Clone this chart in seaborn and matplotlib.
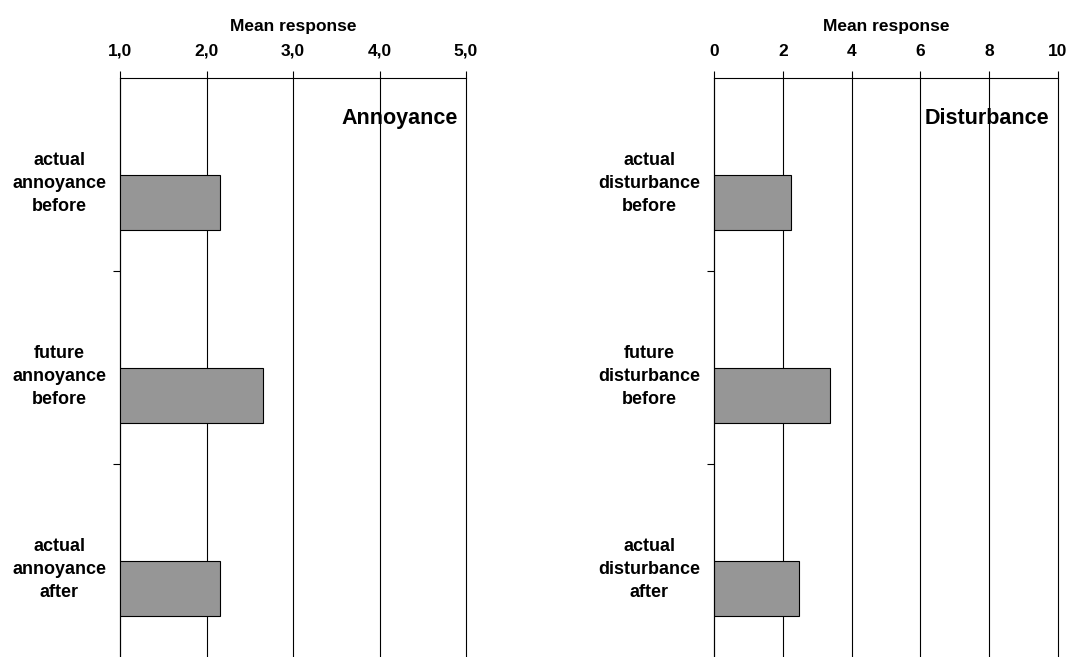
import matplotlib
matplotlib.use("Agg")
import matplotlib.pyplot as plt
import seaborn as sns
import pandas as pd

# data
ann_labels = ["actual\nannoyance\nbefore", "future\nannoyance\nbefore", "actual\nannoyance\nafter"]
ann_values = [2.16, 2.65, 2.16]
dis_labels = ["actual\ndisturbance\nbefore", "future\ndisturbance\nbefore", "actual\ndisturbance\nafter"]
dis_values = [2.24, 3.37, 2.46]

ann_ticks = [1, 2, 3, 4, 5]
ann_ticklabels = ["1,0", "2,0", "3,0", "4,0", "5,0"]
dis_ticks = [0, 2, 4, 6, 8, 10]
dis_ticklabels = ["0", "2", "4", "6", "8", "10"]

sns.set_style("white")
plt.rcParams["font.family"] = ["Liberation Sans", "DejaVu Sans"]
plt.rcParams["text.color"] = "black"
plt.rcParams["axes.labelcolor"] = "black"
plt.rcParams["xtick.color"] = "black"
plt.rcParams["ytick.color"] = "black"

fig = plt.figure(figsize=(10.69, 6.57), dpi=100)
ax1 = fig.add_axes([120 / 1069, 0.0, 346 / 1069, 1 - 78 / 657])
ax2 = fig.add_axes([714 / 1069, 0.0, 344 / 1069, 1 - 78 / 657])

shift = 0.145  # bars sit below the centre of their category band


def panel(ax, labels, values, lo, hi, ticks, ticklabels, title):
    df = pd.DataFrame({"cat": labels, "val": values})
    sns.barplot(data=df, x="val", y="cat", orient="h", ax=ax, color="#969696",
                edgecolor="black", linewidth=0.8, width=0.285, saturation=1)
    ax.set_xlim(lo, hi)
    n = len(labels)
    ax.set_ylim(n - 0.5 - shift, -0.5 - shift)
    ax.xaxis.tick_top()
    ax.xaxis.set_label_position("top")
    ax.set_xticks(ticks)
    ax.set_xticklabels(ticklabels, fontsize=12.5, fontweight="bold")
    ax.tick_params(axis="x", direction="out", length=5, width=0.8, pad=9, top=True, bottom=False)
    ax.set_xlabel("Mean response", fontsize=12.5, fontweight="bold", labelpad=9)
    ax.set_ylabel("")
    centres = [i - shift + 0.02 for i in range(n)]
    ax.set_yticks(centres)
    ax.set_yticklabels(labels, fontsize=13, fontweight="bold", ha="right",
                       multialignment="center", linespacing=1.45)
    ax.tick_params(axis="y", which="major", length=0, pad=10)
    ax.set_yticks([i + 0.5 - shift for i in range(n - 1)], minor=True)
    ax.tick_params(axis="y", which="minor", direction="out", length=5, width=0.8, left=True)
    for t in ticks:
        ax.axvline(t, color="black", lw=0.8, zorder=0, clip_on=False)
    for side in ["right", "bottom"]:
        ax.spines[side].set_visible(False)
    for side in ["top", "left"]:
        ax.spines[side].set_color("black")
        ax.spines[side].set_linewidth(0.8)
    ax.text(0.975, 0.93, title, transform=ax.transAxes, ha="right", va="center",
            fontsize=15.5, fontweight="bold")


panel(ax1, ann_labels, ann_values, 1, 5, ann_ticks, ann_ticklabels, "Annoyance")
panel(ax2, dis_labels, dis_values, 0, 10, dis_ticks, dis_ticklabels, "Disturbance")

fig.savefig("out.png", dpi=100)
